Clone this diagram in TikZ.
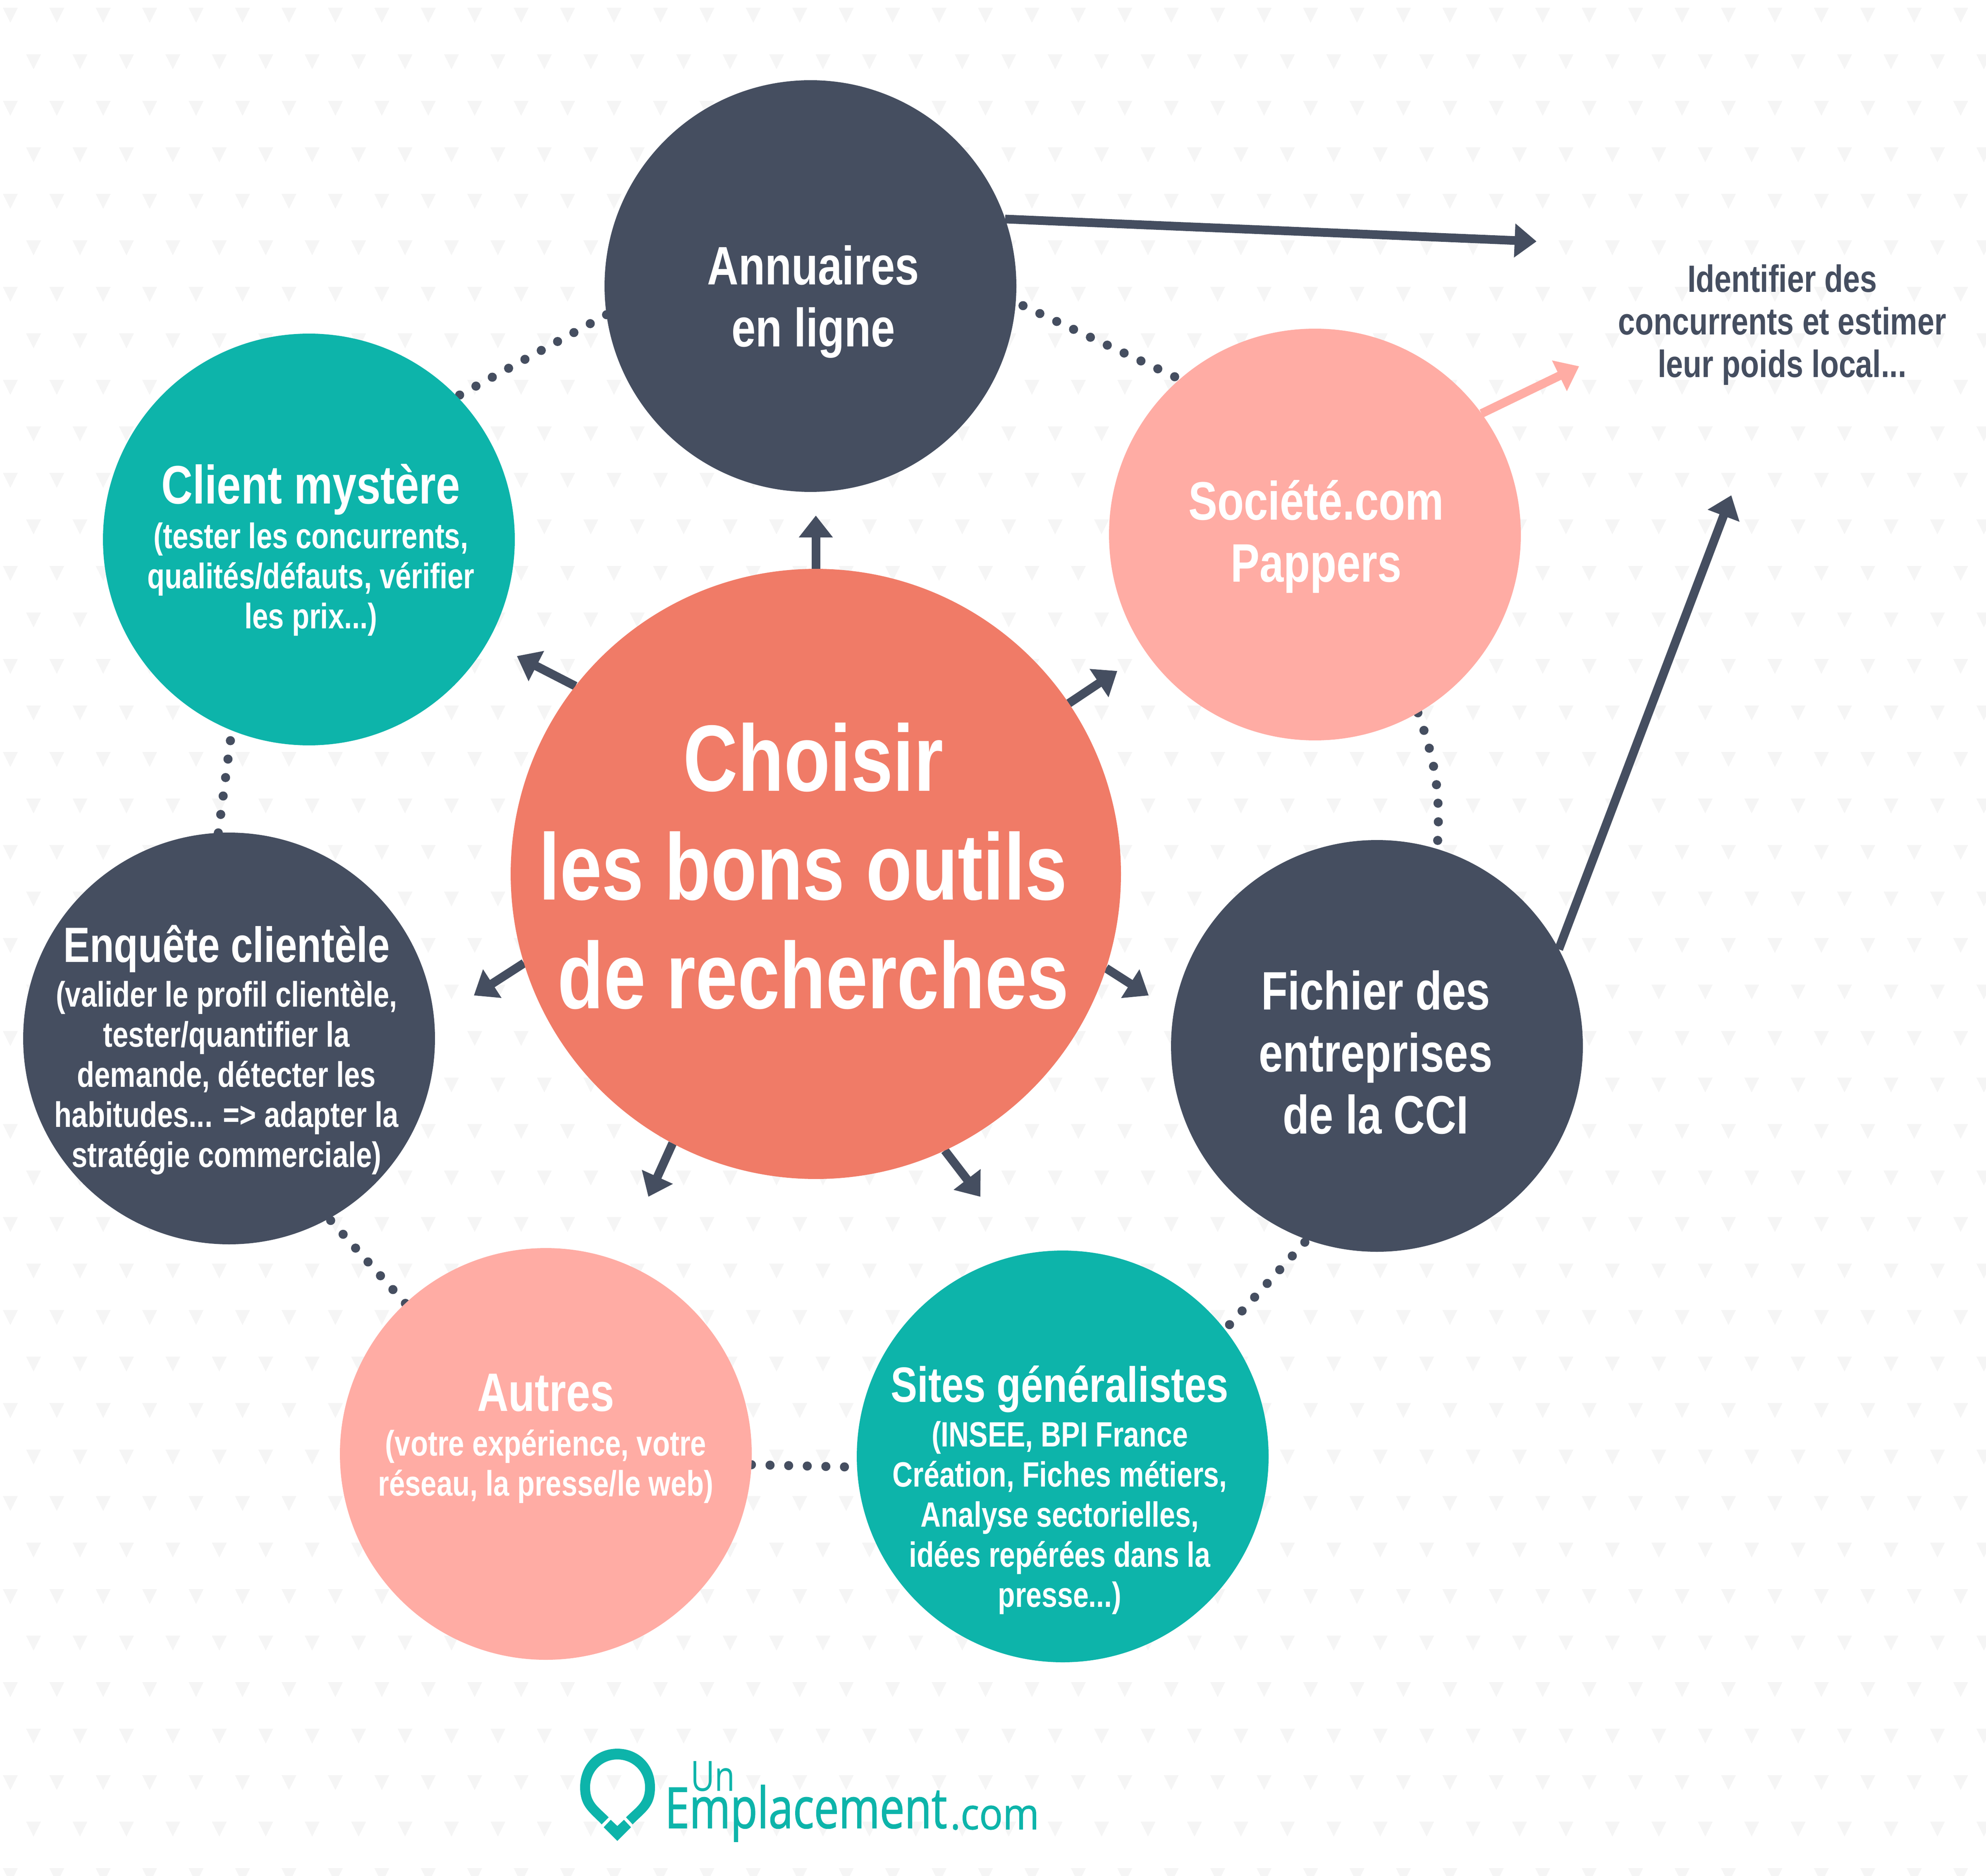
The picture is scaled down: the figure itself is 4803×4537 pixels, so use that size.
\documentclass[tikz,border=0pt]{standalone}
\usepackage{fontspec}
\usetikzlibrary{arrows.meta}
\newfontfamily\rb[FakeStretch=0.8]{Liberation Sans}
\newfontfamily\lgu[FakeStretch=0.79]{Open Sans}
\newfontfamily\lgf[FakeStretch=0.778,FakeBold=1.2]{Open Sans}
\newfontfamily\lgg[FakeStretch=0.9,FakeBold=1]{Open Sans}
\definecolor{dk}{HTML}{454E60}
\definecolor{teal}{HTML}{0DB4AA}
\definecolor{pk}{HTML}{FFACA4}
\definecolor{cor}{HTML}{F07B67}
\definecolor{tri}{HTML}{F5F5F5}
\newcommand{\hs}{\fontsize{13.1}{15}\selectfont}
\newcommand{\hdsm}{\fontsize{12}{15}\selectfont}
\newcommand{\sbt}{\fontsize{8.6}{9.7}\selectfont}
\pgfdeclarelayer{bg}
\pgfsetlayers{bg,main}
\tikzset{
  disc/.style={circle,draw=none,inner sep=0pt,outer sep=0pt,minimum size=99.6pt},
  txt/.style={align=center,inner sep=0pt,font=\rb\bfseries\sbt,text=white},
  arr/.style={draw=dk,line width=2.1pt,-{Triangle[length=5.3pt,width=7.9pt]}},
  dots/.style={draw=dk,line width=2.2pt,line cap=round,dash pattern=on 0pt off 4.5pt},
  logo/.style={text=teal,inner sep=0pt,anchor=base west}
}
\begin{document}
\begin{tikzpicture}[x=0.1pt,y=-0.1pt]
\useasboundingbox (0,0) rectangle (4803,4537);
% circles
\node[disc,fill=cor,minimum size=147.6pt] (big) at (1973,2114) {};
\node[disc,fill=dk] (annu) at (1960,692) {};
\node[disc,fill=pk] (soc) at (3180,1293) {};
\node[disc,fill=dk] (fich) at (3330,2530) {};
\node[disc,fill=teal] (sites) at (2570,3523) {};
\node[disc,fill=pk] (autres) at (1320,3517) {};
\node[disc,fill=dk] (enq) at (554,2512) {};
\node[disc,fill=teal] (client) at (747,1305) {};
% free ends
\coordinate (tU) at (1973,1247);
\coordinate (tUR) at (2702,1623);
\coordinate (tR) at (2778,2408);
\coordinate (tDR) at (2371,2895);
\coordinate (tDL) at (1568,2895);
\coordinate (tL) at (1146,2408);
\coordinate (tUL) at (1250,1587);
\coordinate (tA) at (3716,584);
\coordinate (tS) at (3819,886);
\coordinate (tF) at (4187,1198);
% texts
\node[txt,font=\rb\bfseries\fontsize{22.8}{26.3}\selectfont] (tbig) at (1967,2095) {Choisir\\\fontsize{22.8}{26.3}\selectfont les bons outils\kern5pt\\\fontsize{22.8}{26.3}\selectfont de recherches};
\node[txt,font=\rb\bfseries\hs] (tannu) at (1967,730) {Annuaires\\en ligne};
\node[txt,font=\rb\bfseries\hs] (tsoc) at (3183,1298) {Société.com\\Pappers};
\node[txt,font=\rb\bfseries\hs] (tfich) at (3327,2546) {Fichier des\\entreprises\\de la CCI};
\node[txt] (tclient) at (752,1330) {\hs Client mystère\\[1.1pt](tester les concurrents,\\qualités/défauts, vérifier\\les prix...)};
\node[txt] (tenq) at (548,2540) {\hdsm Enquête clientèle\\[1.1pt](valider le profil clientèle,\\tester/quantifier la\\demande, détecter les\\habitudes... => adapter la\\stratégie commerciale)};
\node[txt] (tautres) at (1320,3480) {\hs Autres\\[1.1pt](votre expérience, votre\\réseau, la presse/le web)};
\node[txt,font=\rb\bfseries\fontsize{8.5}{9.7}\selectfont] (tsites) at (2563,3604) {\hdsm Sites généralistes\\[1.1pt](INSEE, BPI France\\Création, Fiches métiers,\\Analyse sectorielles,\\idées repérées dans la\\presse...)};
\node[txt,text=dk,font=\rb\bfseries\fontsize{9.2}{10.3}\selectfont] (tright) at (4310,786) {Identifier des\\concurrents et estimer\\leur poids local...};
% logo
\node[logo,font=\lgu\fontsize{10.1}{12}\selectfont] (un) at (1668,4332) {Un};
\node[logo,font=\lgf\fontsize{13.7}{15}\selectfont] (empl) at (1606,4422) {Emplacement};
\node[logo,font=\lgg\fontsize{10.5}{12}\selectfont] (com) at (2296,4425) {.com};
\fill[teal,even odd rule]
  (1455,4413) .. controls (1425,4382) and (1403,4370) .. (1403,4323)
  .. controls (1403,4270) and (1440,4230) .. (1493,4230)
  .. controls (1546,4230) and (1584,4270) .. (1584,4323)
  .. controls (1584,4370) and (1561,4382) .. (1530,4413)
  -- (1514,4396) .. controls (1540,4370) and (1560,4360) .. (1560,4323)
  .. controls (1560,4285) and (1530,4256) .. (1493,4256)
  .. controls (1456,4256) and (1427,4285) .. (1427,4323)
  .. controls (1427,4360) and (1446,4370) .. (1472,4396) -- cycle;
\fill[teal] (1477,4402) -- (1493,4417) -- (1509,4402) -- (1526,4420) -- (1493,4453) -- (1460,4420) -- cycle;
% background and connectors
\begin{pgfonlayer}{bg}
\fill[white] (0,0) rectangle (4803,4537);
\begin{scope}
\clip (0,0) rectangle (4803,4537);
\fill[tri] foreach \k in {0,...,40} {
  foreach \n in {0,...,42} {
    ({25+56.15*Mod(\k,2)+112.3*\n-18},{19+112.5*\k}) -- ++(36,0) -- ++(-18,36) -- cycle
  }
};
\end{scope}
\draw[dots] (annu.188) -- (client.44.5);
\draw[dots] ([shift={(18,4)}]annu.-5) -- (soc.131.5);
\draw[dots] (soc.-60.7) to[bend left=12] (fich.73.5);
\draw[dots] ([shift={(4,10)}]fich.249.5) -- (sites.38.7);
\draw[dots] (autres.-3) -- (sites.183);
\draw[dots] (autres.133.7) -- (enq.-61);
\draw[dots] (enq.93.5) -- (client.248);
\draw[arr] (big.90) -- (tU);
\draw[arr] (big.34.7) -- (tUR);
\draw[arr] (big.-18) -- (tR);
\draw[arr] (big.-65) -- (tDR);
\draw[arr] (big.242) -- (tDL);
\draw[arr] (big.197) -- (tL);
\draw[arr] (big.142.6) -- (tUL);
\draw[arr] (annu.19.8) -- (tA);
\draw[arr,draw=pk,fill=pk] (soc.36.8) -- (tS);
\draw[arr] (fich.28.3) -- (tF);
\end{pgfonlayer}
\end{tikzpicture}
\end{document}
